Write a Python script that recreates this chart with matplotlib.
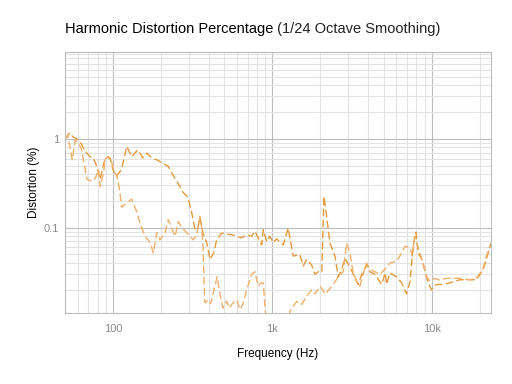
import matplotlib
matplotlib.use("Agg")
import matplotlib.pyplot as plt
from matplotlib.ticker import FixedLocator, NullFormatter, LogLocator

plt.rcParams['font.family'] = ['Liberation Sans', 'DejaVu Sans']

# upper trace (frequency in Hz, distortion in %)
freq_a = [50, 51.3, 53.7, 56, 59.2, 61, 63.7, 66.8, 69, 71.8, 75.2, 79.1, 83, 88, 92, 96,
          100, 105, 113, 122, 131, 143, 154, 163, 175, 188, 202, 222, 238, 263, 275, 295,
          311, 327, 341, 351, 366, 387, 406, 428, 447, 481, 516, 560, 597, 641, 689, 740,
          777, 800, 856, 876, 920, 964, 1010, 1061, 1169, 1256, 1350, 1486, 1561, 1637,
          1762, 1846, 1986, 2040, 2104, 2188, 2295, 2466, 2587, 2716, 2850, 3062, 3452,
          3630, 3896, 4085, 4393, 4841, 5100, 5200, 5458, 6012, 6460, 6937, 7300, 7635,
          7950, 8208, 8600, 9000, 9481, 9951, 10690, 11780, 12970, 14990, 17310, 19060,
          20990, 21990, 23440]
dist_a = [1.0, 1.06, 1.17, 1.05, 1.0, 0.95, 0.86, 0.72, 0.68, 0.63, 0.61, 0.49, 0.35, 0.55,
          0.62, 0.6, 0.45, 0.38, 0.45, 0.82, 0.63, 0.75, 0.61, 0.69, 0.61, 0.58, 0.54, 0.49,
          0.39, 0.29, 0.25, 0.22, 0.15, 0.095, 0.10, 0.13, 0.088, 0.068, 0.044, 0.052, 0.073,
          0.087, 0.085, 0.083, 0.08, 0.077, 0.083, 0.08, 0.091, 0.082, 0.064, 0.095, 0.07,
          0.08, 0.068, 0.075, 0.064, 0.099, 0.048, 0.05, 0.037, 0.044, 0.038, 0.030, 0.033,
          0.032, 0.225, 0.134, 0.067, 0.048, 0.028, 0.034, 0.045, 0.036, 0.023, 0.03, 0.038,
          0.032, 0.030, 0.023, 0.031, 0.023, 0.031, 0.028, 0.024, 0.018, 0.025, 0.062, 0.089,
          0.052, 0.045, 0.034, 0.024, 0.020, 0.023, 0.023, 0.024, 0.026, 0.026, 0.026, 0.034,
          0.044, 0.067]

# lower trace
freq_b = [50, 52, 55.5, 58, 61, 63, 65.5, 68.7, 73.8, 77.5, 81, 83.3, 87.5, 89.5, 94, 97.6,
          101, 106, 109.5, 113.4, 122, 131, 141, 148, 159, 171, 179, 188, 197, 212, 222, 233,
          245, 257, 270, 290, 304, 319, 335, 351, 360, 367, 372, 377, 396, 410, 435, 450,
          469, 489, 516, 535, 560, 597, 625, 655, 689, 741, 777, 815, 850, 876, 900, 930,
          1250, 1288, 1418, 1524, 1637, 1762, 1846, 1986, 2150, 2407, 2587, 2780, 2918, 3062,
          3212, 3373, 3539, 3709, 3896, 4085, 4393, 4721, 5075, 5458, 6012, 6460, 6800, 7300,
          7550, 7800, 8400, 8819, 9300, 9711, 10400, 11000, 12500, 14990, 17310, 19060,
          20990, 21990, 23440]
dist_b = [1.0, 1.1, 0.58, 0.97, 0.86, 0.8, 0.56, 0.35, 0.33, 0.36, 0.45, 0.29, 0.43, 0.6,
          0.63, 0.58, 0.43, 0.38, 0.28, 0.17, 0.19, 0.21, 0.15, 0.11, 0.08, 0.068, 0.052,
          0.088, 0.073, 0.088, 0.123, 0.10, 0.08, 0.117, 0.10, 0.088, 0.08, 0.073, 0.083,
          0.134, 0.10, 0.062, 0.027, 0.0143, 0.0155, 0.014, 0.022, 0.028, 0.018, 0.0125,
          0.015, 0.0125, 0.014, 0.0155, 0.012, 0.014, 0.020, 0.030, 0.032, 0.022, 0.024,
          0.024, 0.012, 0.008, 0.008, 0.0115, 0.0148, 0.0137, 0.0169, 0.020, 0.018, 0.022,
          0.018, 0.023, 0.028, 0.032, 0.067, 0.052, 0.031, 0.025, 0.022, 0.030, 0.040, 0.034,
          0.032, 0.030, 0.034, 0.040, 0.042, 0.052, 0.062, 0.059, 0.048, 0.080, 0.052, 0.040,
          0.028, 0.025, 0.027, 0.026, 0.027, 0.027, 0.026, 0.027, 0.035, 0.048, 0.067]

x_ticks = [100, 1000, 10000]
x_labels = ['100', '1k', '10k']
y_ticks = [0.1, 1]
y_labels = ['0.1', '1']

fig = plt.figure(figsize=(5.12, 3.84), dpi=100)
ax = fig.add_axes([0.127, 0.185, 0.832, 0.68])

ax.plot(freq_a, dist_a, color='#e39a3c', lw=1.0, ls=(0, (5.5, 2.5)))
ax.plot(freq_b, dist_b, color='#eeb06a', lw=1.0, ls=(0, (5.5, 2.5)))

ax.set_xscale('log')
ax.set_yscale('log')
ax.set_xlim(50, 23500)
ax.set_ylim(0.011, 9.5)

ax.xaxis.set_major_locator(FixedLocator(x_ticks))
ax.set_xticklabels(x_labels)
ax.yaxis.set_major_locator(FixedLocator(y_ticks))
ax.set_yticklabels(y_labels)
ax.xaxis.set_minor_locator(LogLocator(base=10, subs=range(2, 10)))
ax.yaxis.set_minor_locator(LogLocator(base=10, subs=range(2, 10)))
ax.xaxis.set_minor_formatter(NullFormatter())
ax.yaxis.set_minor_formatter(NullFormatter())

ax.grid(which='major', color='#bdbdbd', lw=0.8)
ax.grid(which='minor', color='#e3e3e3', lw=0.8)
ax.set_axisbelow(True)
for s in ax.spines.values():
    s.set_color('#bdbdbd')
    s.set_linewidth(0.8)
ax.tick_params(which='both', length=0, colors='#8a8a8a', labelsize=8)
ax.tick_params(axis='x', pad=8)
ax.tick_params(axis='y', pad=4)

ax.set_xlabel('Frequency (Hz)', fontsize=8.5, labelpad=10)
ax.set_ylabel('Distortion (%)', fontsize=8.5, labelpad=3)

t = ax.text(0, 1.06, 'Harmonic Distortion Percentage', transform=ax.transAxes,
            fontsize=10.5, color='black', ha='left', va='bottom')
ax.annotate(' (1/24 Octave Smoothing)', xy=(1, 0), xycoords=t, fontsize=10.5,
            color='#222222', ha='left', va='bottom')

fig.savefig('out.png', dpi=100)
